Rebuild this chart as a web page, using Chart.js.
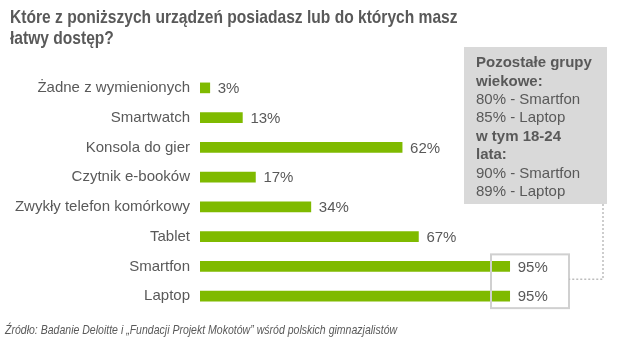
<!DOCTYPE html>
<html><head><meta charset="utf-8">
<script src="https://cdn.jsdelivr.net/npm/chart.js@4"></script>
<style>html,body{margin:0;padding:0;background:#fff}#w{width:617px;height:350px}</style>
</head><body><div id="w"><canvas id="c" width="617" height="350"></canvas></div>
<script>
const titleLines = ["Które z poniższych urządzeń posiadasz lub do których masz", "łatwy dostęp?"];
const categories = ["Żadne z wymienionych", "Smartwatch", "Konsola do gier", "Czytnik e-booków", "Zwykły telefon komórkowy", "Tablet", "Smartfon", "Laptop"];
const values = [3, 13, 62, 17, 34, 67, 95, 95];
const noteLines = [
  {t: "Pozostałe grupy", b: true},
  {t: "wiekowe:", b: true},
  {t: "80% - Smartfon", b: false},
  {t: "85% - Laptop", b: false},
  {t: "w tym 18-24", b: true},
  {t: "lata:", b: true},
  {t: "90% - Smartfon", b: false},
  {t: "89% - Laptop", b: false}
];
const highlighted = ["Smartfon", "Laptop"];
const sourceText = "Źródło: Badanie Deloitte i „Fundacji Projekt Mokotów” wśród polskich gimnazjalistów";

const FONT = "'Liberation Sans', Arial, sans-serif";
const TXT = "#595959";

function narrowText(ctx, text, x, y, sx) {
  ctx.save();
  ctx.translate(x, y);
  ctx.scale(sx, 1);
  ctx.fillText(text, 0, 0);
  ctx.restore();
}

const deco = {
  id: 'deco',
  afterDraw(chart) {
    const ctx = chart.ctx;
    const ys = chart.scales.y;
    ctx.save();
    // title
    ctx.fillStyle = TXT;
    ctx.font = "bold 19px " + FONT;
    ctx.textBaseline = "alphabetic";
    ctx.textAlign = "left";
    titleLines.forEach((l, i) => narrowText(ctx, l, 10, 23 + i * 21, 0.82));
    // value labels
    ctx.font = "15px " + FONT;
    ctx.textBaseline = "middle";
    const meta = chart.getDatasetMeta(0);
    meta.data.forEach((bar, i) => {
      ctx.fillText(values[i] + "%", bar.x + 8, bar.y + 1);
    });
    // note box
    const bx = 464, by = 47, bw = 143, bh = 157;
    ctx.fillStyle = "#d9d9d9";
    ctx.fillRect(bx, by, bw, bh);
    ctx.fillStyle = TXT;
    noteLines.forEach((l, i) => {
      ctx.font = (l.b ? "bold " : "") + "15px " + FONT;
      ctx.fillText(l.t, 476, 63 + i * 18.4);
    });
    // highlight rectangle
    const i0 = categories.indexOf(highlighted[0]);
    const i1 = categories.indexOf(highlighted[1]);
    const top = ys.getPixelForValue(i0) - 12;
    const bot = ys.getPixelForValue(i1) + 12;
    ctx.strokeStyle = "#d0d0d0";
    ctx.lineWidth = 2;
    ctx.strokeRect(491, top, 78, bot - top);
    // dotted connector
    ctx.strokeStyle = "#bdbdbd";
    ctx.lineWidth = 1.5;
    ctx.setLineDash([2, 2]);
    const my = (top + bot) / 2 - 2;
    ctx.beginPath();
    ctx.moveTo(603, by + bh);
    ctx.lineTo(603, my);
    ctx.lineTo(569, my);
    ctx.stroke();
    ctx.setLineDash([]);
    // source
    ctx.fillStyle = TXT;
    ctx.font = "italic 13px " + FONT;
    ctx.textBaseline = "alphabetic";
    narrowText(ctx, sourceText, 5, 334, 0.81);
    ctx.restore();
  }
};

new Chart(document.getElementById('c'), {
  type: 'bar',
  data: {
    labels: categories,
    datasets: [{data: values, backgroundColor: "#7fba00", barThickness: 10, borderWidth: 0}]
  },
  options: {
    indexAxis: 'y',
    responsive: false,
    animation: false,
    layout: {padding: {top: 73, bottom: 39, left: 0, right: 91}},
    plugins: {legend: {display: false}, tooltip: {enabled: false}, title: {display: false}},
    scales: {
      x: {display: false, min: 0, max: 100},
      y: {
        grid: {display: false, drawTicks: false},
        border: {display: false},
        ticks: {padding: 10, color: TXT, font: {family: FONT, size: 15}},
        afterFit(s) { s.width = 200; }
      }
    }
  },
  plugins: [deco]
});
</script></body></html>
